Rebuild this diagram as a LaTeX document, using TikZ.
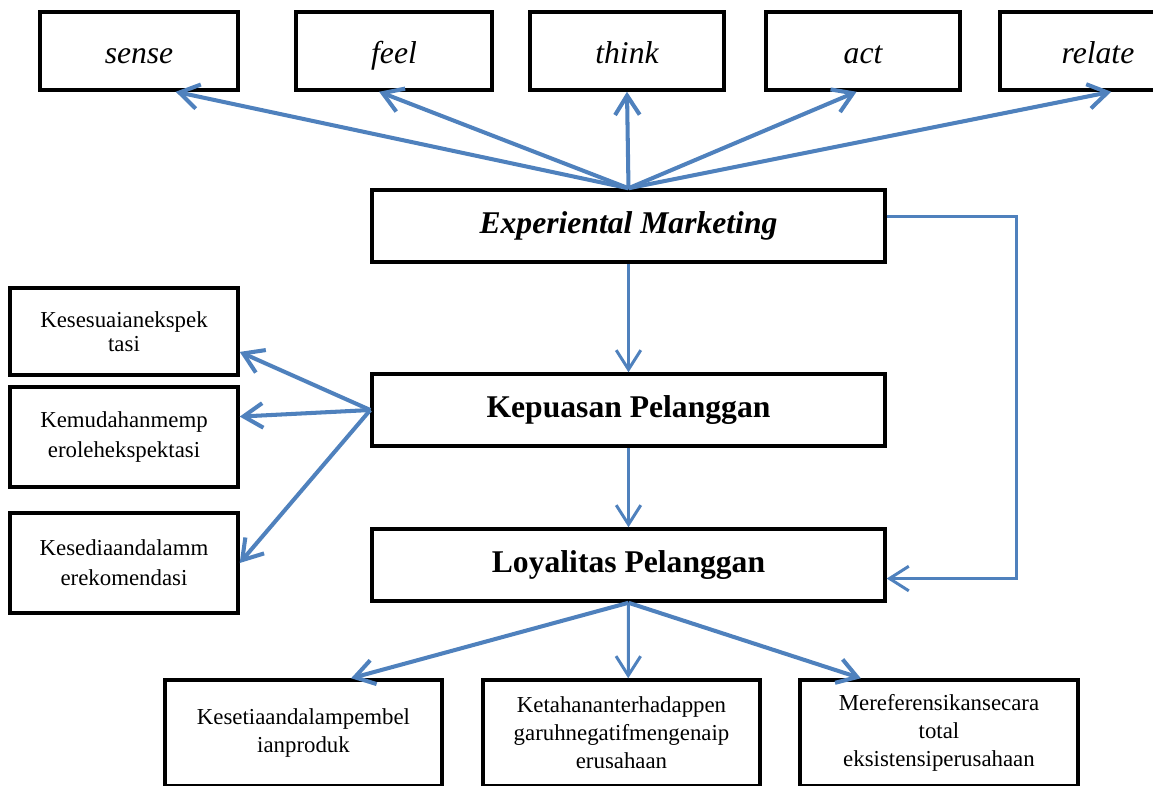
\documentclass[tikz,border=0pt]{standalone}
\usepackage{fontspec}
\setmainfont{Liberation Serif}
\usetikzlibrary{arrows.meta}
\definecolor{linkblue}{HTML}{4F81BD}
\begin{document}
\begin{tikzpicture}
[x=0.02cm, y=-0.02cm,
 box/.style={draw, line width=2pt, inner sep=2pt, align=center},
 topbox/.style={box, minimum height=1.56cm, text height=15pt, text depth=1pt, font=\fontsize{18}{20}\selectfont\itshape},
 mainbox/.style={box, minimum width=10.26cm, minimum height=1.44cm, font=\fontsize{18}{20}\selectfont\bfseries},
 sidebox/.style={box, minimum width=4.56cm, minimum height=2cm, font=\fontsize{13}{17}\selectfont},
 footbox/.style={box, minimum width=5.54cm, minimum height=2.12cm, font=\fontsize{13}{16}\selectfont},
 fanarrow/.style={draw=linkblue, line width=2.3pt, -{Straight Barb[length=11pt,width=14pt]}},
 flowarrow/.style={fanarrow, line width=1.7pt}]
\clip (0,0) rectangle (1153,785);
\node[topbox, minimum width=3.96cm] (sense) at (139,51) {sense};
\node[topbox, minimum width=3.92cm] (feel) at (394,51) {feel};
\node[topbox, minimum width=3.88cm] (think) at (627,51) {think};
\node[topbox, minimum width=3.88cm] (act) at (863,51) {act};
\node[topbox, minimum width=3.92cm] (relate) at (1098,51) {relate};
\node[mainbox] (em) at (628.5,226) {\itshape Experiental Marketing};
\node[mainbox] (kp) at (628.5,410) {Kepuasan Pelanggan};
\node[mainbox] (lp) at (628.5,565) {Loyalitas Pelanggan};
\node[sidebox, minimum height=1.74cm, font=\fontsize{13}{14}\selectfont] (ekspektasi) at (124,331.5) {Kesesuaianekspek\\tasi};
\node[sidebox] (kemudahan) at (124,437) {Kemudahanmemp\\erolehekspektasi};
\node[sidebox] (rekomendasi) at (124,563) {Kesediaandalamm\\erekomendasi};
\node[footbox] (pembelian) at (303.5,733) {Kesetiaandalampembel\\ianproduk};
\node[footbox] (ketahanan) at (621.5,733) {Ketahananterhadappen\\garuhnegatifmengenaip\\erusahaan};
\node[footbox, minimum width=5.56cm] (referensi) at (939,733) {Mereferensikansecara\\total\\eksistensiperusahaan};
\foreach \tgt/\ang in {sense/-48, feel/-110, think/-90, act/-99, relate/-72}
  \draw[fanarrow] (em.north) -- (\tgt.\ang);
\foreach \tgt/\ang in {ekspektasi/-10, kemudahan/10, rekomendasi/0}
  \draw[fanarrow] (kp.west) -- (\tgt.\ang);
\foreach \tgt/\ang in {pembelian/49, referensi/145}
  \draw[fanarrow] (lp.south) -- (\tgt.\ang);
\draw[flowarrow] (lp.south) -- (ketahanan.83);
\draw[flowarrow] (em.south) -- (kp.north);
\draw[flowarrow] (kp.south) -- (lp.north);
\draw[flowarrow] (em.2) -- ++(130,0) |- (lp.-3);
\end{tikzpicture}
\end{document}
